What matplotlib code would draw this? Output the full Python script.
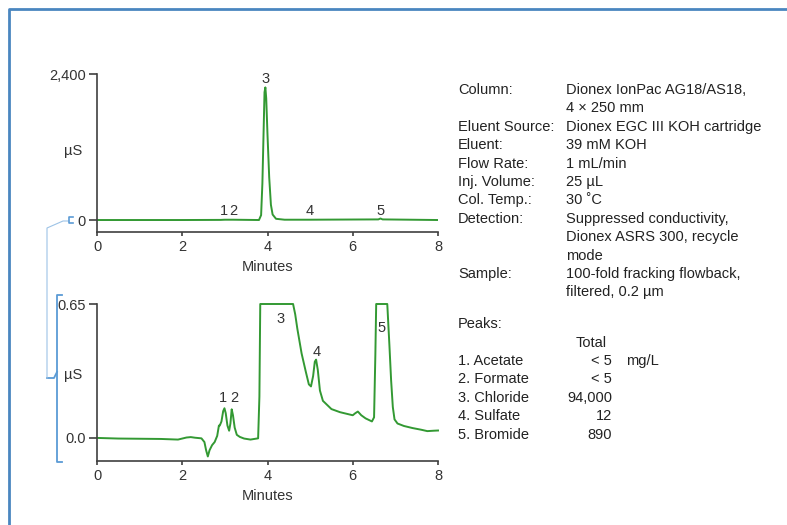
import numpy as np
import matplotlib
matplotlib.use("Agg")
from matplotlib import pyplot as plt
from matplotlib.lines import Line2D

plt.rcParams['font.family'] = ['Liberation Sans', 'DejaVu Sans']

GREEN = '#339933'
AXIS = '#404040'
BLUE = '#5b9bd5'

# full-scale trace (minutes, uS)
top_t = [0, 2.0, 2.9, 3.0, 3.2, 3.8, 3.85, 3.88, 3.91, 3.93, 3.95, 3.97, 4.0, 4.04, 4.08, 4.12, 4.2, 4.4, 5.0, 6.6, 6.65, 6.7, 8.0]
top_y = [0, 0, 2, 5, 5, 0, 80, 600, 1500, 2100, 2180, 2000, 1400, 700, 250, 90, 20, 5, 5, 10, 25, 10, 0]

# expanded trace (minutes, uS), saturated at 0.65
bot_t = [0, 0.5, 1.0, 1.5, 1.9, 2.1, 2.2, 2.3, 2.45, 2.52, 2.56, 2.6, 2.64, 2.7, 2.76, 2.82,
         2.86, 2.88, 2.92, 2.96, 2.99, 3.02, 3.06, 3.10, 3.13, 3.16, 3.19, 3.23, 3.28, 3.35,
         3.45, 3.6, 3.78, 3.81, 3.83, 4.6, 4.65, 4.7, 4.8, 4.9, 4.97, 5.02, 5.07, 5.11, 5.14,
         5.18, 5.23, 5.3, 5.4, 5.5, 5.7, 5.9, 6.0, 6.06, 6.12, 6.2, 6.3, 6.45, 6.5, 6.53, 6.55,
         6.81, 6.86, 6.9, 6.94, 6.98, 7.05, 7.2, 7.4, 7.6, 7.75, 7.9, 8.0]
bot_y = [0.0, -0.003, -0.004, -0.005, -0.008, 0.002, 0.004, 0.001, -0.002, -0.02, -0.06, -0.09,
         -0.06, -0.035, -0.02, 0.01, 0.06, 0.06, 0.08, 0.13, 0.144, 0.12, 0.06, 0.035, 0.07, 0.139,
         0.11, 0.05, 0.015, 0.005, -0.003, -0.008, -0.002, 0.2, 0.65, 0.65, 0.6, 0.53, 0.41, 0.32,
         0.26, 0.25, 0.3, 0.37, 0.38, 0.33, 0.23, 0.18, 0.16, 0.14, 0.125, 0.115, 0.11, 0.12, 0.128,
         0.11, 0.095, 0.08, 0.1, 0.4, 0.65, 0.65, 0.45, 0.28, 0.15, 0.09, 0.07, 0.058, 0.048, 0.04,
         0.033, 0.035, 0.036]

# peak labels
top_lbl = ['1', '2', '3', '4', '5']
top_lbl_x = [2.98, 3.2, 3.95, 5.0, 6.65]
top_lbl_y = [30, 30, 2200, 30, 30]
bot_lbl = ['1', '2', '3', '4', '5']
bot_lbl_x = [2.96, 3.22, 4.3, 5.15, 6.67]
bot_lbl_y = [0.16, 0.16, 0.545, 0.385, 0.50]

cond_labels = ['Column:', '', 'Eluent Source:', 'Eluent:', 'Flow Rate:', 'Inj. Volume:',
               'Col. Temp.:', 'Detection:', '', '', 'Sample:', '']
cond_values = ['Dionex IonPac AG18/AS18,', '4 × 250 mm', 'Dionex EGC III KOH cartridge',
               '39 mM KOH', '1 mL/min', '25 µL', '30 ˚C', 'Suppressed conductivity,',
               'Dionex ASRS 300, recycle', 'mode', '100-fold fracking flowback,',
               'filtered, 0.2 µm']
peak_names = ['1. Acetate', '2. Formate', '3. Chloride', '4. Sulfate', '5. Bromide']
peak_amounts = ['< 5', '< 5', '94,000', '12', '890']

W, H = 787, 525
fig = plt.figure(figsize=(W / 100, H / 100), dpi=100)

def px(x, y):
    return x / W, 1 - y / H

def style_ax(ax):
    for s in ['top', 'right']:
        ax.spines[s].set_visible(False)
    for s in ['left', 'bottom']:
        ax.spines[s].set_color(AXIS)
        ax.spines[s].set_linewidth(1.2)
    ax.tick_params(axis='y', direction='out', length=6, width=1.2, color=AXIS,
                   labelsize=10.5, labelcolor='#333333', pad=2)
    ax.tick_params(axis='x', direction='out', length=3, width=1.2, color=AXIS,
                   labelsize=10.5, labelcolor='#333333', pad=3)
    ax.set_xlim(0, 8)
    ax.set_xticks([0, 2, 4, 6, 8])
    ax.set_xlabel('Minutes', fontsize=10.5, color='#333333', labelpad=4)

ax1 = fig.add_axes([97 / W, 1 - 232 / H, 341 / W, 158 / H])
ax1.plot(top_t, top_y, color=GREEN, lw=1.4)
ax1.set_ylim(-197, 2400)
ax1.set_yticks([0, 2400])
ax1.set_yticklabels(['0', '2,400'])
style_ax(ax1)
ax1.set_ylabel('µS', rotation=0, fontsize=10.5, color='#333333')
ax1.yaxis.set_label_coords(-0.07, 0.47)
for s, x, y in zip(top_lbl, top_lbl_x, top_lbl_y):
    ax1.text(x, y, s, ha='center', va='bottom', fontsize=10.5, color='#333333')

ax2 = fig.add_axes([97 / W, 1 - 461 / H, 341 / W, 157 / H])
ax2.plot(bot_t, bot_y, color=GREEN, lw=1.4, clip_on=False)
ax2.set_ylim(-0.112, 0.65)
ax2.set_yticks([0.0, 0.65])
ax2.set_yticklabels(['0.0', '0.65'])
style_ax(ax2)
ax2.set_ylabel('µS', rotation=0, fontsize=10.5, color='#333333')
ax2.yaxis.set_label_coords(-0.07, 0.5)
for s, x, y in zip(bot_lbl, bot_lbl_x, bot_lbl_y):
    ax2.text(x, y, s, ha='center', va='bottom', fontsize=10.5, color='#333333')

# frame lines of the figure panel
fig.add_artist(Line2D(*zip(px(9, 525), px(9, 9), px(787, 9)), color='#4a86c0', lw=2))

# brackets linking the zoomed range
fig.add_artist(Line2D(*zip(px(62, 295), px(57, 295), px(57, 462), px(62, 462)), color=BLUE, lw=1.3))
fig.add_artist(Line2D(*zip(px(57, 372), px(54, 378), px(47, 378)), color=BLUE, lw=1.3))
fig.add_artist(Line2D(*zip(px(47, 378), px(47, 228), px(63, 221), px(68, 221)), color='#9dc3e6', lw=0.8))
fig.add_artist(Line2D(*zip(px(73, 217), px(69, 217), px(69, 223), px(73, 223)), color=BLUE, lw=1.2))

# conditions text
fs = 10.5
tc = '#222222'
y0 = 90
dy = 18.4
for i, (lab, val) in enumerate(zip(cond_labels, cond_values)):
    y = y0 + i * dy
    fig.text(*px(458, y), lab, fontsize=fs, color=tc, va='center')
    fig.text(*px(566, y), val, fontsize=fs, color=tc, va='center')

fig.text(*px(458, 324), 'Peaks:', fontsize=fs, color=tc, va='center')
fig.text(*px(576, 343), 'Total', fontsize=fs, color=tc, va='center')
for i, (nm, amt) in enumerate(zip(peak_names, peak_amounts)):
    y = 361 + i * dy
    fig.text(*px(458, y), nm, fontsize=fs, color=tc, va='center')
    fig.text(*px(612, y), amt, fontsize=fs, color=tc, va='center', ha='right')
fig.text(*px(626, 361), 'mg/L', fontsize=fs, color=tc, va='center')

fig.savefig('out.png', dpi=100)
